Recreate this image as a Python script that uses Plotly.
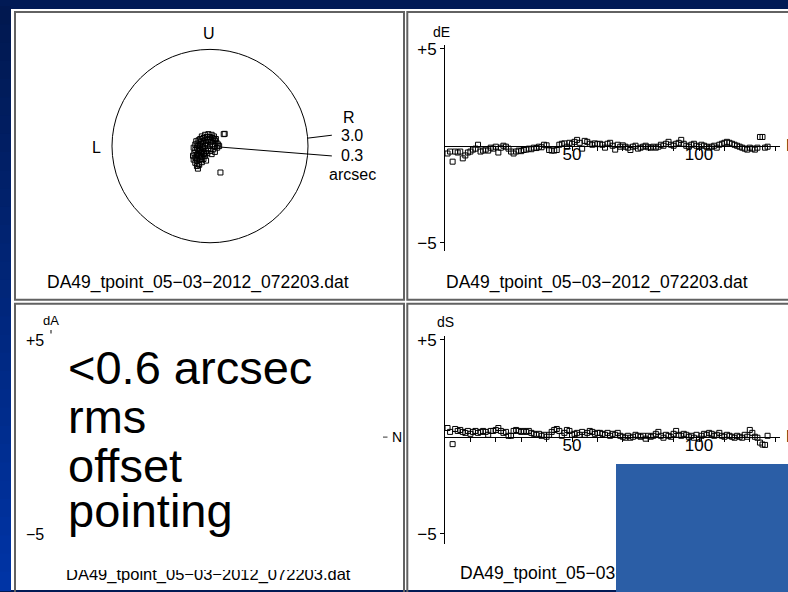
import plotly.graph_objects as go
import math

W, H = 788, 592

# ---------------- data ----------------
n_index = list(range(1, 128))

dE = [-0.40, -0.30, -0.82, -0.30, -0.35, -0.30, -0.65, -0.50, -0.35, -0.30,
      -0.20, -0.15, 0.05, -0.30, -0.25, -0.20, -0.25, -0.10, -0.15, -0.05,
      -0.35, -0.10, 0.00, -0.05, -0.15, -0.30, -0.40, -0.30, -0.25, -0.28,
      -0.22, -0.20, -0.15, -0.18, -0.10, -0.12, -0.05, -0.08, 0.05, 0.02,
      -0.22, -0.25, -0.25, -0.22, 0.05, 0.10, 0.12, -0.05, 0.15, 0.10,
      0.20, 0.30, 0.15, -0.15, 0.25, 0.20, 0.10, 0.05, 0.12, 0.08,
      0.10, 0.05, -0.10, 0.10, 0.15, 0.00, -0.20, 0.05, -0.05, 0.02,
      -0.05, -0.10, -0.22, -0.05, 0.00, -0.15, -0.10, -0.05, 0.00, -0.08,
      -0.10, -0.05, -0.10, -0.05, 0.05, 0.00, 0.10, 0.20, 0.05, 0.00,
      0.10, 0.15, 0.30, 0.10, 0.00, -0.05, 0.05, 0.10, 0.00, -0.05,
      0.05, 0.00, -0.05, -0.10, -0.05, 0.00, -0.10, 0.05, 0.10, 0.15,
      0.20, 0.15, 0.10, 0.05, 0.00, -0.05, -0.10, -0.15, -0.20, -0.10,
      -0.15, -0.20, -0.10, 0.45, 0.45, -0.10, -0.05]

dS = [0.45, 0.25, -0.38, 0.40, 0.30, 0.35, 0.25, 0.20, 0.30, 0.15,
      0.25, 0.30, 0.20, 0.25, 0.30, 0.25, 0.10, 0.30, 0.30, 0.35,
      0.45, 0.30, 0.20, 0.25, 0.05, 0.05, 0.30, 0.35, 0.30, 0.25,
      0.30, 0.25, 0.30, 0.20, 0.15, 0.10, 0.15, 0.05, 0.10, 0.00,
      0.10, 0.25, 0.35, 0.40, 0.30, 0.05, 0.20, 0.35, 0.30, 0.10,
      0.15, 0.20, 0.10, 0.25, 0.10, 0.20, 0.30, 0.25, 0.15, 0.20,
      0.20, 0.15, 0.10, 0.20, 0.05, 0.15, 0.10, 0.20, 0.05, 0.00,
      -0.05, 0.05, -0.05, 0.00, 0.10, 0.05, 0.00, 0.05, -0.10, 0.05,
      0.00, 0.05, 0.15, 0.25, 0.05, -0.05, 0.10, 0.05, 0.00, 0.15,
      0.30, 0.10, 0.05, 0.15, 0.10, 0.00, 0.05, -0.05, 0.10, -0.10,
      0.05, 0.15, 0.10, 0.20, 0.15, 0.05, 0.10, 0.20, 0.05, 0.00,
      0.10, 0.05, 0.00, -0.05, 0.05, 0.00, -0.05, 0.10, 0.00, 0.35,
      0.20, 0.00, -0.05, -0.30, -0.40, -0.42, 0.05]

# sky-plot offsets (arcsec)
sky_x = [-0.25, -0.15, -0.05, 0.05, 0.12, 0.18, -0.30, -0.20, -0.10, 0.00, 0.08, 0.15,
         -0.42, -0.35, -0.28, -0.20, -0.12, -0.05, 0.02, 0.10, 0.20, 0.25, 0.28,
         -0.45, -0.38, -0.30, -0.22, -0.15, -0.08, 0.00, 0.08, 0.15, 0.22,
         -0.50, -0.45, -0.40, -0.35, -0.30, -0.25, -0.20, -0.12, -0.05, 0.02, 0.10, 0.15,
         -0.48, -0.38, -0.28, -0.18, -0.08, 0.05,
         -0.52, -0.45, -0.35, -0.25, -0.15, -0.50, -0.40, -0.30, -0.20, -0.45, -0.35, -0.25, -0.12,
         -0.40, -0.37, -0.33,
         -0.32, -0.22, -0.40, -0.10, -0.28, -0.35, -0.18, -0.42,
         0.42, 0.45, 0.32]
sky_y = [0.30, 0.35, 0.37, 0.35, 0.30, 0.22, 0.22, 0.25, 0.28, 0.28, 0.25, 0.18,
         0.15, 0.18, 0.12, 0.15, 0.10, 0.18, 0.12, 0.15, 0.10, 0.05, 0.00,
         0.05, 0.08, 0.02, 0.05, 0.00, 0.05, 0.02, 0.05, 0.00, -0.05,
         -0.05, -0.12, -0.05, -0.15, -0.08, -0.18, -0.10, -0.15, -0.08, -0.15, -0.10, -0.18,
         -0.22, -0.25, -0.22, -0.25, -0.22, -0.25,
         -0.30, -0.35, -0.32, -0.35, -0.30, -0.42, -0.45, -0.42, -0.40, -0.52, -0.55, -0.50, -0.45,
         -0.62, -0.70, -0.58,
         -0.12, -0.05, -0.28, 0.20, -0.30, 0.00, -0.20, -0.38,
         0.37, 0.38, -0.82]

R_OUTER = 3.0
R_RMS = 0.3
file_name = "DA49_tpoint_05\u221203\u22122012_072203.dat"
big_text = ["<0.6 arcsec", "rms", "offset", "pointing"]

FONT = "Liberation Sans, Arial, sans-serif"


def fx(px):
    return px / W


def fy(py):
    return 1 - py / H


fig = go.Figure()

marker = dict(symbol="square-open", size=5, color="black", line=dict(width=1, color="black"))

fig.add_trace(go.Scatter(x=sky_x, y=sky_y, mode="markers", marker=marker,
                         xaxis="x", yaxis="y", showlegend=False, cliponaxis=False))
fig.add_trace(go.Scatter(x=n_index, y=dE, mode="markers", marker=marker,
                         xaxis="x2", yaxis="y2", showlegend=False, cliponaxis=False))
fig.add_trace(go.Scatter(x=n_index, y=dS, mode="markers", marker=marker,
                         xaxis="x3", yaxis="y3", showlegend=False, cliponaxis=False))

shapes = []
# left background gradient strip
top_c = (1, 24, 80)
bot_c = (0, 52, 165)
nb = 32
for i in range(nb):
    t = i / (nb - 1)
    c = tuple(int(round(top_c[k] + (bot_c[k] - top_c[k]) * t)) for k in range(3))
    shapes.append(dict(type="rect", xref="paper", yref="paper", layer="below",
                       x0=0, x1=fx(11), y0=fy(i * H / nb), y1=fy((i + 1) * H / nb + 1),
                       fillcolor="rgb(%d,%d,%d)" % c, line=dict(width=0)))
# white page
shapes.append(dict(type="rect", xref="paper", yref="paper", layer="below",
                   x0=fx(11), x1=1, y0=0, y1=fy(3), fillcolor="white", line=dict(width=0)))
# panel borders
for (x0, y0, x1, y1) in [(15, 6, 404, 297.7), (407.3, 6, 792, 297.7),
                         (15, 301.8, 404, 596), (407.3, 301.8, 792, 596)]:
    shapes.append(dict(type="rect", xref="paper", yref="paper", layer="below",
                       x0=fx(x0), x1=fx(x1), y0=fy(y1), y1=fy(y0),
                       fillcolor="rgba(0,0,0,0)", line=dict(width=2, color="#626262")))
# sky circle
shapes.append(dict(type="circle", xref="x", yref="y", x0=-R_OUTER, x1=R_OUTER,
                   y0=-R_OUTER, y1=R_OUTER, line=dict(width=1, color="black")))
LABEL_X = 3.73
th1 = math.radians(4.7)
th2 = math.radians(-5.6)
shapes.append(dict(type="line", xref="x", yref="y",
                   x0=R_OUTER * math.cos(th1), y0=R_OUTER * math.sin(th1),
                   x1=LABEL_X, y1=0.337, line=dict(width=1, color="black")))
shapes.append(dict(type="line", xref="x", yref="y",
                   x0=R_RMS * math.cos(th2), y0=R_RMS * math.sin(th2),
                   x1=LABEL_X, y1=-0.306, line=dict(width=1, color="black")))
# bits of the hidden dA axis
shapes.append(dict(type="line", xref="paper", yref="paper", x0=fx(51), x1=fx(51),
                   y0=fy(332), y1=fy(328.5), line=dict(width=1.2, color="#333")))
shapes.append(dict(type="line", xref="paper", yref="paper", x0=fx(383), x1=fx(387.5),
                   y0=fy(437), y1=fy(437), line=dict(width=1, color="#333")))

annotations = []


def ann(text, px, py, size, xanchor="center", yanchor="middle", **kw):
    d = dict(text=text, x=fx(px), y=fy(py), xref="paper", yref="paper",
             xanchor=xanchor, yanchor=yanchor, showarrow=False,
             font=dict(family=FONT, size=size, color="black"))
    d.update(kw)
    annotations.append(d)


# top-left panel
ann("U", 209, 28, 16)
ann("L", 96, 143, 16)
ann("R", 349, 113, 16)
ann("3.0", 352, 131, 16)
ann("0.3", 352, 152, 16)
ann("arcsec", 352, 170.5, 16)
ann(file_name, 198, 280, 17.5)
# top-right panel
ann("dE", 442, 26, 14)
ann(file_name, 597, 280, 17.5)
ann("N", 784, 141.7, 16, xanchor="left")
# bottom-left panel
ann("dA", 51, 319, 13)
ann("+5", 46, 339, 16, xanchor="right")
ann("\u22125", 46, 536, 16, xanchor="right")
ann("N", 389.5, 437, 14, xanchor="left")
ann(file_name, 208, 576, 16.5)
annotations.append(dict(text=" ", x=fx(52), y=fy(333), xref="paper", yref="paper",
                        xanchor="left", yanchor="top", showarrow=False,
                        width=330, height=235, bgcolor="white", borderpad=0, borderwidth=0,
                        font=dict(size=10)))
for line, cy in zip(big_text, [366.7, 415.7, 465.7, 511.7]):
    ann(line, 66, cy, 47, xanchor="left")
# bottom-right panel
ann("dS", 445, 320, 14)
ann(file_name, 611, 575, 17.5)
ann("N", 784, 436.7, 16, xanchor="left")
annotations.append(dict(text=" ", x=fx(616), y=fy(464), xref="paper", yref="paper",
                        xanchor="left", yanchor="top", showarrow=False,
                        width=180, height=135, bgcolor="#2b5ea6", borderpad=0, borderwidth=0,
                        font=dict(size=10)))

x_tickvals = list(range(10, 131, 10))
x_ticktext = [str(v) if v in (50, 100) else "" for v in x_tickvals]

PXU = 2.54  # px per N
X_MAX = (780 - 445) / PXU

common_x = dict(range=[0, X_MAX], showgrid=False, zeroline=False, showline=True,
                linecolor="black", linewidth=1, ticks="outside", ticklen=4,
                tickcolor="black", tickwidth=1, tickvals=x_tickvals, ticktext=x_ticktext,
                tickfont=dict(family=FONT, size=17, color="black"), anchor="free",
                ticklabelstandoff=-11,
                domain=[fx(445), fx(780)])
common_y = dict(showgrid=False, zeroline=False, showline=True, linecolor="black",
                linewidth=1, ticks="outside", ticklen=4, tickcolor="black", tickwidth=1,
                tickvals=[5, -5], ticktext=["+5", "\u22125"],
                tickfont=dict(family=FONT, size=17, color="black"))

fig.update_layout(
    width=W, height=H, autosize=False,
    margin=dict(l=0, r=0, t=0, b=0, pad=0),
    paper_bgcolor="#011a55", plot_bgcolor="rgba(0,0,0,0)",
    showlegend=False,
    xaxis=dict(domain=[fx(30), fx(390)], range=[-5.51, 5.51], visible=False),
    yaxis=dict(domain=[fy(270), fy(20)], range=[-3.918, 3.734], visible=False),
    xaxis2=dict(common_x, position=fy(141.7)),
    yaxis2=dict(common_y, anchor="x2", domain=[fy(248), fy(40)], range=[-5.40, 5.16]),
    xaxis3=dict(common_x, position=fy(436.7)),
    yaxis3=dict(common_y, anchor="x3", domain=[fy(545), fy(335)], range=[-5.50, 5.16]),
    shapes=shapes,
    annotations=annotations,
)

fig.write_html("out.html")
